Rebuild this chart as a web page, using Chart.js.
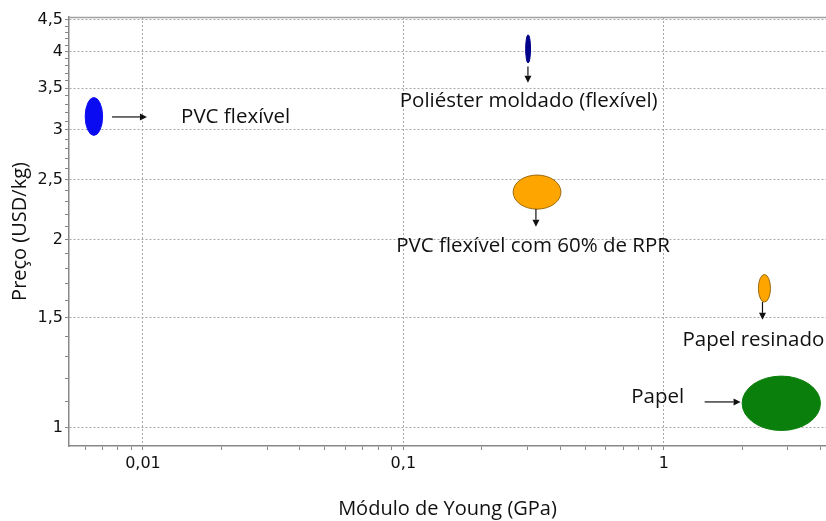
<!DOCTYPE html>
<html>
<head>
<meta charset="utf-8">
<script src="https://cdn.jsdelivr.net/npm/chart.js@4/dist/chart.umd.min.js"></script>
<style>
  html, body { margin: 0; padding: 0; background: #ffffff; }
  #wrap { width: 826px; height: 521px; position: relative; }
</style>
</head>
<body>
<div id="wrap"><canvas id="c"></canvas></div>
<script>
// ---- Data ----
const materials   = ['PVC flexível', 'Poliéster moldado (flexível)', 'PVC flexível com 60% de RPR', 'Papel resinado', 'Papel'];
const modulusMin  = [0.0060, 0.295, 0.264, 2.31, 2.00];   // GPa
const modulusMax  = [0.0070, 0.308, 0.403, 2.57, 4.00];   // GPa
const priceMin    = [2.94, 3.84, 2.24, 1.59, 0.99];       // USD/kg
const priceMax    = [3.38, 4.26, 2.54, 1.76, 1.21];       // USD/kg
const xTickValues = [0.01, 0.1, 1];
const yTickValues = [1, 1.5, 2, 2.5, 3, 3.5, 4, 4.5];

// ---- Styles (kept apart from data) ----
const fillColors   = ['#0b0bf2', '#00008b', '#ffa500', '#ffa500', '#0b7f0b'];
const strokeColors = ['#0b0bf2', '#00008b', '#9a6a10', '#9a6a10', '#0b7f0b'];

// label anchor & arrow positions in data units (annotation layout)
const labelLayout = [
  { x: 0.0227, y: 3.147 },
  { x: 0.303,  y: 3.34 },
  { x: 0.315,  y: 1.955 },
  { x: 2.21,   y: 1.383 },
  { x: 0.948,  y: 1.121 }
];
const arrowLayout = [
  { x0: 0.00761, y0: 3.147, x1: 0.01036, y1: 3.147 },
  { x0: 0.301,   y0: 3.79,  x1: 0.301,   y1: 3.57 },
  { x0: 0.323,   y0: 2.242, x1: 0.323,   y1: 2.099 },
  { x0: 2.395,   y0: 1.591, x1: 2.395,   y1: 1.489 },
  { x0: 1.436,   y0: 1.100, x1: 1.973,   y1: 1.100 }
];

const FONT = "'Open Sans', 'Noto Sans', sans-serif";

function minorX() {
  const v = [];
  for (let d = -3; d <= 0; d++) for (let m = 1; m <= 9; m++) v.push(m * Math.pow(10, d));
  return v;
}
function minorY() {
  const v = [];
  for (let k = 9; k <= 46; k++) v.push(k / 10);
  return v;
}
const fmt = v => String(v).replace('.', ',');
const isMajor = (list, v) => list.some(t => Math.abs(t - v) / t < 1e-6);

const ellipsePlugin = {
  id: 'ellipses',
  beforeDatasetsDraw(chart) {
    const { ctx, scales: { x, y }, chartArea } = chart;
    ctx.save();
    // top frame line
    ctx.strokeStyle = '#a0a0a0';
    ctx.lineWidth = 1.5;
    ctx.beginPath();
    ctx.moveTo(chartArea.left, chartArea.top + 0.5);
    ctx.lineTo(chartArea.right, chartArea.top + 0.5);
    ctx.stroke();
    for (let i = 0; i < materials.length; i++) {
      const xa = x.getPixelForValue(modulusMin[i]);
      const xb = x.getPixelForValue(modulusMax[i]);
      const ya = y.getPixelForValue(priceMin[i]);
      const yb = y.getPixelForValue(priceMax[i]);
      ctx.beginPath();
      ctx.ellipse((xa + xb) / 2, (ya + yb) / 2, Math.abs(xb - xa) / 2, Math.abs(ya - yb) / 2, 0, 0, Math.PI * 2);
      ctx.fillStyle = fillColors[i];
      ctx.fill();
      ctx.lineWidth = 1;
      ctx.strokeStyle = strokeColors[i];
      ctx.stroke();
    }
    // arrows
    ctx.strokeStyle = '#111';
    ctx.fillStyle = '#111';
    ctx.lineWidth = 1.2;
    arrowLayout.forEach(a => {
      const x0 = x.getPixelForValue(a.x0), y0 = y.getPixelForValue(a.y0);
      const x1 = x.getPixelForValue(a.x1), y1 = y.getPixelForValue(a.y1);
      const ang = Math.atan2(y1 - y0, x1 - x0);
      const hl = 7, hw = 3.5;
      ctx.beginPath();
      ctx.moveTo(x0, y0);
      ctx.lineTo(x1 - hl * Math.cos(ang), y1 - hl * Math.sin(ang));
      ctx.stroke();
      ctx.beginPath();
      ctx.moveTo(x1, y1);
      ctx.lineTo(x1 - hl * Math.cos(ang) + hw * Math.sin(ang), y1 - hl * Math.sin(ang) - hw * Math.cos(ang));
      ctx.lineTo(x1 - hl * Math.cos(ang) - hw * Math.sin(ang), y1 - hl * Math.sin(ang) + hw * Math.cos(ang));
      ctx.closePath();
      ctx.fill();
    });
    // labels
    ctx.font = "20.5px " + FONT;
    ctx.fillStyle = '#111';
    ctx.textAlign = 'center';
    ctx.textBaseline = 'middle';
    materials.forEach((m, i) => {
      const p = labelLayout[i];
      ctx.fillText(m, x.getPixelForValue(p.x), y.getPixelForValue(p.y));
    });
    ctx.restore();
  }
};

const centers = materials.map((m, i) => ({
  x: Math.sqrt(modulusMin[i] * modulusMax[i]),
  y: Math.sqrt(priceMin[i] * priceMax[i])
}));

new Chart(document.getElementById('c'), {
  type: 'scatter',
  data: {
    datasets: [{ label: 'Materiais', data: centers, pointRadius: 0, pointHoverRadius: 0 }]
  },
  options: {
    responsive: true,
    maintainAspectRatio: false,
    animation: false,
    layout: { padding: { top: 17, right: 0, left: 0, bottom: 0 } },
    plugins: { legend: { display: false }, tooltip: { enabled: false } },
    scales: {
      x: {
        type: 'logarithmic',
        min: 0.0052,
        max: 4.2,
        afterBuildTicks: s => { s.ticks = minorX().filter(v => v >= s.min && v <= s.max).map(v => ({ value: v })); },
        afterFit: s => { s.height = 75; },
        ticks: {
          autoSkip: false,
          maxRotation: 0,
          padding: 4,
          color: '#111',
          font: { family: "'DejaVu Sans', sans-serif", size: 16 },
          callback: v => isMajor(xTickValues, v) ? fmt(v) : ''
        },
        grid: {
          drawTicks: true,
          tickLength: 4,
          color: c => (c.tick && isMajor(xTickValues, c.tick.value)) ? '#a8a8a8' : 'rgba(0,0,0,0)',
          tickColor: '#888',
          lineWidth: 1
        },
        border: { display: true, color: '#888', width: 1.5, dash: [2, 2] },
        title: {
          display: true,
          text: 'Módulo de Young (GPa)',
          color: '#111',
          font: { family: FONT, size: 20 },
          padding: { top: 0, bottom: 0 }
        }
      },
      y: {
        type: 'logarithmic',
        min: 0.935,
        max: 4.55,
        afterBuildTicks: s => { s.ticks = minorY().filter(v => v >= s.min && v <= s.max).map(v => ({ value: v })); },
        afterFit: s => { s.width = 69; },
        ticks: {
          autoSkip: false,
          padding: 2,
          color: '#111',
          font: { family: "'DejaVu Sans', sans-serif", size: 16 },
          callback: v => isMajor(yTickValues, v) ? fmt(v) : ''
        },
        grid: {
          drawTicks: true,
          tickLength: 4,
          color: c => (c.tick && isMajor(yTickValues, c.tick.value)) ? '#a8a8a8' : 'rgba(0,0,0,0)',
          tickColor: '#888',
          lineWidth: 1
        },
        border: { display: true, color: '#888', width: 1.5, dash: [2, 2] },
        title: {
          display: true,
          text: 'Preço (USD/kg)',
          color: '#111',
          font: { family: FONT, size: 20 },
          padding: { top: 8, bottom: 0, left: 0, right: 0 }
        }
      }
    }
  },
  plugins: [ellipsePlugin]
});
</script>
</body>
</html>
